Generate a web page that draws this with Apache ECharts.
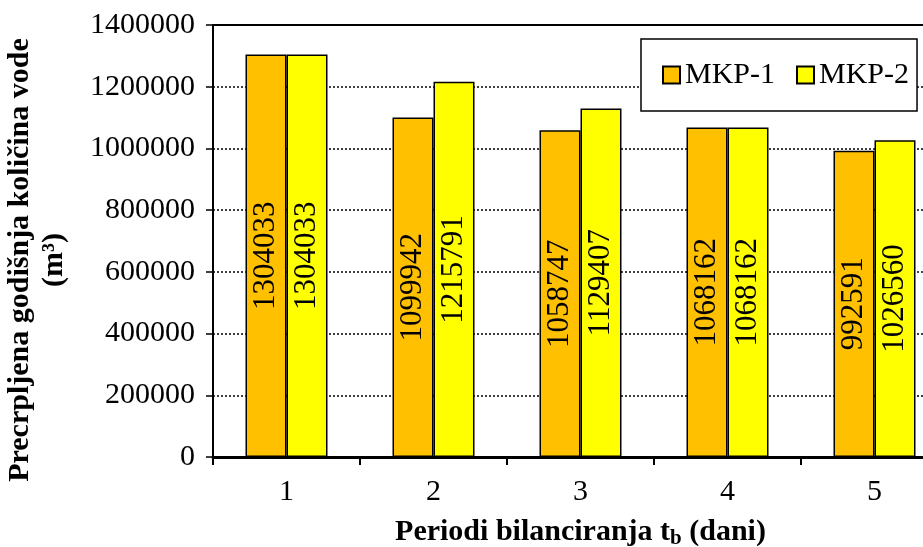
<html>
<head>
<meta charset="utf-8">
<script src="https://cdn.jsdelivr.net/npm/echarts@6/dist/echarts.min.js"></script>
<style>
  body { margin: 0; padding: 0; background: #fff; }
  #main { width: 923px; height: 547px; }
</style>
</head>
<body>
<div id="main"></div>
<script>
// podaci
var periods = ['1', '2', '3', '4', '5'];
var mkp1 = [1304033, 1099942, 1058747, 1068162, 992591];
var mkp2 = [1304033, 1215791, 1129407, 1068162, 1026560];
var yTicks = [0, 200000, 400000, 600000, 800000, 1000000, 1200000, 1400000];

var font = '"Liberation Serif", "Times New Roman", serif';

var chart = echarts.init(document.getElementById('main'));

// natpis u stupcu, okrenut okomito
function barLabel() {
  return {
    show: true,
    position: 'inside',
    rotate: 90,
    color: '#000',
    fontFamily: font,
    fontSize: 31
  };
}

chart.setOption({
  animation: false,
  textStyle: { fontFamily: font },
  grid: {
    left: 213, right: -25, top: 25, bottom: 90,
    outerBoundsMode: 'none',
    containLabel: false,
    show: true, borderColor: '#000', borderWidth: 2
  },
  legend: {
    left: 641, top: 39,
    padding: [21, 8, 21, 21],
    itemWidth: 17, itemHeight: 17, itemGap: 21,
    backgroundColor: '#fff',
    borderColor: '#000', borderWidth: 1.5,
    icon: 'rect',
    textStyle: { fontFamily: font, fontSize: 30, color: '#000' },
    data: ['MKP-1', 'MKP-2']
  },
  xAxis: {
    type: 'category',
    data: periods,
    axisLine: { lineStyle: { color: '#000', width: 3 } },
    axisTick: { show: true, length: 8, lineStyle: { color: '#000', width: 2 } },
    axisLabel: { color: '#000', fontFamily: font, fontSize: 30, margin: 20 },
    name: '{t|Periodi bilanciranja t}{s|b}{t| (dani)}',
    nameLocation: 'middle',
    nameGap: 58,
    nameTextStyle: {
      rich: {
        t: { fontFamily: font, fontSize: 30, fontWeight: 'bold', color: '#000' },
        s: { fontFamily: font, fontSize: 21, fontWeight: 'bold', color: '#000', padding: [13, 0, 0, 0] }
      }
    }
  },
  yAxis: {
    type: 'value',
    min: 0, max: 1400000, interval: 200000,
    axisLine: { show: true, lineStyle: { color: '#000', width: 2 } },
    axisTick: { show: true, length: 7, lineStyle: { color: '#000', width: 1.5 } },
    axisLabel: {
      color: '#000', fontFamily: font, fontSize: 30, margin: 18,
      formatter: function (v) { return String(v); }
    },
    splitLine: { lineStyle: { color: '#000', type: [2, 2], width: 1.5 } },
    name: 'Precrpljena godišnja količina vode\n(m³)',
    nameLocation: 'middle',
    nameGap: 142,
    nameTextStyle: {
      fontFamily: font, fontSize: 30, fontWeight: 'bold', color: '#000',
      lineHeight: 34, align: 'center',
      padding: [0, 38, 0, 0]
    }
  },
  series: [
    {
      name: 'MKP-1',
      type: 'bar',
      data: mkp1,
      barWidth: 41,
      barGap: '0%',
      itemStyle: { color: '#FFC000', borderColor: '#000', borderWidth: 1.5 },
      label: barLabel()
    },
    {
      name: 'MKP-2',
      type: 'bar',
      data: mkp2,
      barWidth: 41,
      barGap: '0%',
      itemStyle: { color: '#FFFF00', borderColor: '#000', borderWidth: 1.5 },
      label: barLabel()
    }
  ]
});
</script>
</body>
</html>
